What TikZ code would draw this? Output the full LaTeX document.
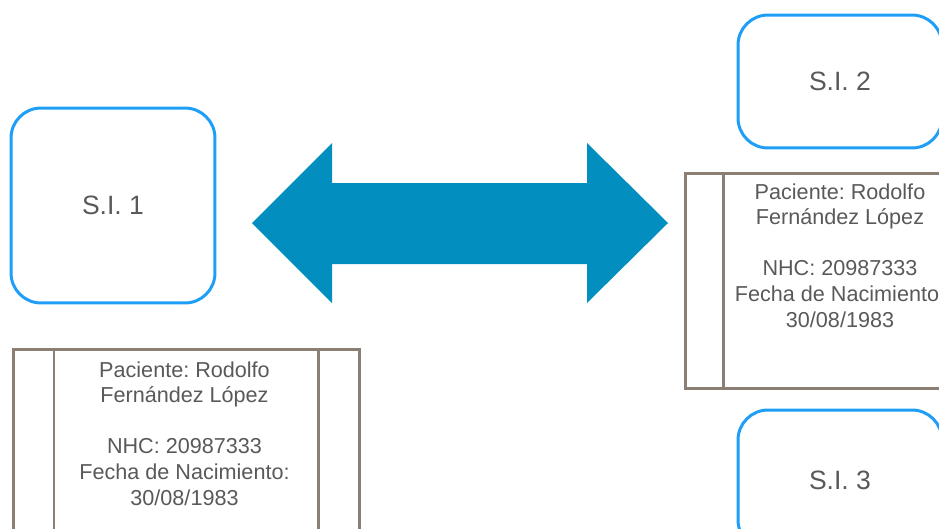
\documentclass[tikz,border=0pt]{standalone}
\usepackage{fontspec}
\setmainfont{Liberation Sans}
\usepackage{xcolor}
\usetikzlibrary{positioning, calc}
\frenchspacing
\definecolor{sidraw}{HTML}{1E9EF7}
\definecolor{arrfill}{HTML}{028FC0}
\definecolor{docdraw}{HTML}{8A7F72}
\definecolor{txtgrey}{HTML}{595959}
\tikzset{
  sibox/.style={rectangle, rounded corners=0.6cm, draw=sidraw, line width=1.7pt, fill=white, minimum width=4.08cm, font=\fontsize{15.1}{18}\selectfont, text=txtgrey},
  docbox/.style={rectangle, draw=docdraw, line width=1.7pt, anchor=north west, inner sep=0pt},
  docline/.style={draw=docdraw, line width=1.7pt},
  doctext/.style={align=center, anchor=north, inner sep=0pt, font=\fontsize{12.3}{14.6}\selectfont, text=txtgrey},
  bigarrow/.style={fill=arrfill, draw=none},
}

\begin{document}
\begin{tikzpicture}[x=0.02cm, y=-0.02cm]
  \useasboundingbox (0,0) rectangle (939,528);
  \clip (0,0) rectangle (939,528);

  \node[sibox, minimum height=3.9cm] (si1) at (113,205.5) {S.I. 1};
  \node[sibox, minimum height=2.66cm] (si2) at (840,81.5) {S.I. 2};
  \node[sibox, minimum height=2.8cm] (si3) at (840,480) {S.I. 3};

  % patient records
  \node[docbox, minimum width=6.92cm, minimum height=5cm] (doc1) at (12,348) {};
  \draw[docline] ($(doc1.north west)+(42,0)$) -- ($(doc1.south west)+(42,0)$);
  \draw[docline] ($(doc1.north east)+(-42,0)$) -- ($(doc1.south east)+(-42,0)$);
  \node[doctext] (txt1) at (184.5,361) {Paciente: Rodolfo\\Fernández López\\[14.6pt]NHC: 20987333\\Fecha de Nacimiento:\\30/08/1983};

  \node[docbox, minimum width=6.26cm, minimum height=4.3cm] (doc2) at (684,172) {};
  \draw[docline] ($(doc2.north west)+(39,0)$) -- ($(doc2.south west)+(39,0)$);
  \draw[docline] ($(doc2.north east)+(-40,0)$) -- ($(doc2.south east)+(-40,0)$);
  \node[doctext] (txt2) at (840,183) {Paciente: Rodolfo\\Fernández López\\[14.6pt]NHC: 20987333\\Fecha de Nacimiento:\\30/08/1983};

  % exchange
  \fill[bigarrow] (252,223) -- (332,143) -- (332,183) -- (587,183) -- (587,143)
    -- (668,223) -- (587,303) -- (587,264) -- (332,264) -- (332,303) -- cycle;
\end{tikzpicture}
\end{document}
